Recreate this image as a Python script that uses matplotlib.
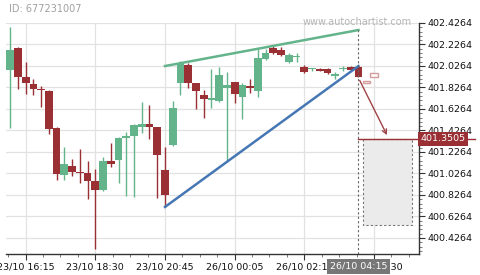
import matplotlib
matplotlib.use("Agg")
import matplotlib.pyplot as plt
import matplotlib.transforms as mtransforms
from matplotlib.ticker import FixedLocator
import numpy as np

# ---- data ----
opens  = [401.989, 402.194, 401.924, 401.859, 401.815, 401.794, 401.450, 401.012, 401.096, 401.040,
          401.031, 400.957, 400.873, 401.143, 401.152, 401.357, 401.375, 401.456, 401.484, 401.459,
          401.059, 401.292, 401.871, 402.036, 401.871, 401.754, 401.713, 401.704, 401.825, 401.878,
          401.741, 401.838, 401.797, 402.094, 402.197, 402.178, 402.066, 402.110, 402.020, 401.999,
          402.001, 401.994, 401.938, 401.999, 402.017, 402.020]
highs  = [402.392, 402.200, 402.061, 401.903, 401.838, 401.803, 401.456, 401.270, 401.159, 401.252,
          401.140, 401.066, 401.177, 401.307, 401.362, 401.410, 401.487, 401.689, 401.661, 401.459,
          401.276, 401.701, 402.076, 402.057, 401.871, 401.803, 401.996, 402.014, 401.971, 401.878,
          401.865, 401.903, 402.182, 402.182, 402.212, 402.206, 402.145, 402.145, 402.036, 402.012,
          402.008, 402.005, 401.973, 402.026, 402.026, 402.026]
lows   = [401.450, 401.810, 401.766, 401.759, 401.642, 401.391, 400.966, 400.966, 401.006, 400.941,
          400.786, 400.327, 400.861, 401.090, 400.935, 400.820, 400.805, 401.400, 401.345, 400.796,
          400.715, 401.282, 401.759, 401.819, 401.624, 401.540, 401.633, 401.691, 401.136, 401.679,
          401.531, 401.772, 401.735, 402.082, 402.135, 402.119, 402.052, 402.066, 401.964, 401.983,
          401.977, 401.952, 401.903, 401.983, 401.980, 401.921]
closes = [402.175, 401.927, 401.871, 401.812, 401.803, 401.443, 401.025, 401.115, 401.043, 401.028,
          400.957, 400.873, 401.143, 401.115, 401.357, 401.378, 401.478, 401.484, 401.456, 401.201,
          400.826, 401.636, 402.052, 401.871, 401.797, 401.722, 401.726, 401.943, 401.847, 401.769,
          401.850, 401.825, 402.098, 402.150, 402.150, 402.132, 402.129, 402.119, 401.973, 402.008,
          401.983, 401.964, 401.947, 402.012, 401.985, 401.921]

ghost_open  = [401.890, 401.921]
ghost_close = [401.871, 401.958]

resistance_x = [20, 45]
resistance_y = [402.026, 402.361]
support_x = [20, 45]
support_y = [400.715, 402.026]

forecast_level = 401.3505
forecast_low = 400.5445
forecast_x0, forecast_x1 = 45.6, 51.95
arrow_start = (45, 401.915)
arrow_end = (48.85, 401.36)

xtick_pos = [2, 11, 20, 29, 38, 47]
xtick_labels = ["23/10 16:15", "23/10 18:30", "23/10 20:45", "26/10 00:05", "26/10 02:15", "26/10 04:30"]
ytick_vals = [400.4264, 400.6264, 400.8264, 401.0264, 401.2264, 401.4264, 401.6264, 401.8264, 402.0264, 402.2264, 402.4264]
current_label = "26/10 04:15"
current_idx = 45

# ---- style ----
GREEN = "#63b48b"
RED = "#9a3034"
GRID = "#e2e2e2"
FS = 6.8

fig = plt.figure(figsize=(4.8, 2.75), dpi=100)
ax = fig.add_axes([6/480, 1-254/275, (419-6)/480, (254-23)/275])
ax.set_xlim(-0.54, 52.82)
ax.set_ylim(400.2775, 402.4264)

for s in ["left", "top"]:
    ax.spines[s].set_visible(False)
for s in ["bottom", "right"]:
    ax.spines[s].set_color("#333333")
    ax.spines[s].set_linewidth(1.0)

ax.yaxis.tick_right()
ax.set_yticks(ytick_vals)
ax.set_yticklabels([f"{v:.4f}" for v in ytick_vals], fontsize=FS, color="#111111")
ax.yaxis.set_minor_locator(FixedLocator(np.arange(400.2664, 402.44, 0.04)))
ax.set_xticks(xtick_pos)
ax.set_xticklabels(xtick_labels, fontsize=FS, color="#111111")
ax.xaxis.set_minor_locator(FixedLocator(np.arange(-0.25, 52.8, 2.25)))
ax.tick_params(axis="both", which="major", length=4, width=0.8, color="#333333", pad=2)
ax.tick_params(axis="both", which="minor", length=2, width=0.6, color="#666666")
ax.grid(True, which="major", color=GRID, linewidth=0.9)
ax.set_axisbelow(True)

# candles
for i, (o, h, l, c) in enumerate(zip(opens, highs, lows, closes)):
    col = GREEN if c >= o else RED
    ax.plot([i, i], [l, h], color=col, linewidth=1.0, zorder=2, solid_capstyle="butt")
    bottom = min(o, c)
    height = max(abs(c - o), 0.012)
    ax.bar(i, height, bottom=bottom, width=1.0, color=col, zorder=3, linewidth=0)

# ghost candles
for k, (o, c) in enumerate(zip(ghost_open, ghost_close)):
    i = len(opens) + k
    ax.bar(i, abs(c - o), bottom=min(o, c), width=0.95, facecolor="white",
           edgecolor="#d59a9a", linewidth=1.0, zorder=3)

# pattern lines
ax.plot(resistance_x, resistance_y, color=GREEN, linewidth=1.8, zorder=4)
ax.plot(support_x, support_y, color="#4677b5", linewidth=1.8, zorder=4)

# forecast box
ax.axvline(current_idx, ymin=0, ymax=(resistance_y[1]-400.2775)/(402.4264-400.2775),
           color="#666666", linestyle=(0, (2, 2)), linewidth=0.8, zorder=4)
ax.fill_between([forecast_x0, forecast_x1], forecast_low, forecast_level, facecolor="#ebebeb",
                edgecolor="#777777", linestyle=(0, (2, 2)), linewidth=0.8, zorder=2)
ax.plot([current_idx, 60], [forecast_level, forecast_level], color=RED, linewidth=1.0,
        zorder=5, clip_on=False)
ax.annotate("", xy=arrow_end, xytext=arrow_start,
            arrowprops=dict(arrowstyle="->", color="#a04448", lw=1.0, mutation_scale=8), zorder=5)

# labels
trans_y = mtransforms.blended_transform_factory(ax.transAxes, ax.transData)
ax.text(1.004, forecast_level, "401.3505", transform=trans_y, fontsize=FS, color="white",
        va="center", ha="left", zorder=10,
        bbox=dict(boxstyle="square,pad=0.28", facecolor=RED, edgecolor="none"))
trans_x = mtransforms.blended_transform_factory(ax.transData, ax.transAxes)
ax.text(current_idx, -0.054, current_label, transform=trans_x, fontsize=FS, color="white",
        va="center", ha="center", zorder=10,
        bbox=dict(boxstyle="square,pad=0.3", facecolor="#777777", edgecolor="none"))

fig.text(9/480, 1-9/275, "ID: 677231007", fontsize=7, color="#a0a0a0", va="center", ha="left")
fig.text(357/480, 1-22/275, "www.autochartist.com", fontsize=7, color="#b5b5b5", va="center", ha="center")

fig.savefig("out.png", dpi=100)
